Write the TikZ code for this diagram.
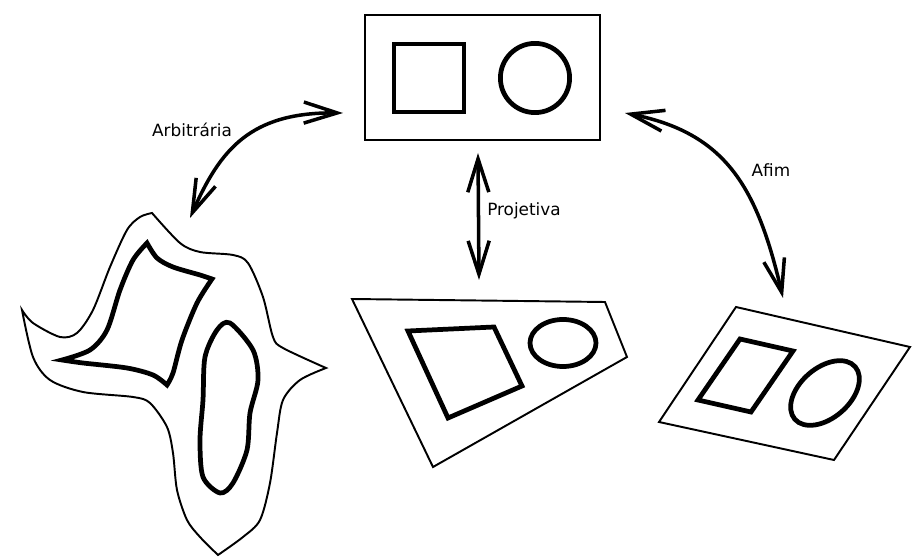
\documentclass[tikz,border=0pt]{standalone}
\usepackage{fontspec}
\setmainfont{DejaVu Sans}
\usetikzlibrary{arrows.meta}
\tikzset{
  outline/.style={line width=1.1pt, line join=miter},
  bold shape/.style={line width=2.7pt, line join=miter},
  map arrow/.style={
    line width=2pt,
    {Straight Barb[length=19pt, width=12pt]}-{Straight Barb[length=19pt, width=12pt]}
  },
  map label/.style={font=\fontsize{9.6}{11}\selectfont, inner sep=0pt}
}

\begin{document}
\begin{tikzpicture}[x=0.02cm, y=-0.02cm]
  \useasboundingbox (0,0) rectangle (914,560);

  % Original figure
  \draw[outline] (365,15) rectangle (600,140);
  \draw[bold shape] (394,44) rectangle (464,112);
  \draw[bold shape] (535,78) circle[radius=34.6];

  % Projective image
  \draw[outline] (352,299) -- (605,302) -- (627,357) -- (433,467) -- cycle;
  \draw[bold shape] (408,331) -- (494,327) -- (522,386) -- (448,418) -- cycle;
  \draw[bold shape] (563,343) ellipse[x radius=33, y radius=23.5];

  % Affine image
  \draw[outline] (736,307) -- (910,347) -- (834,460) -- (659,422) -- cycle;
  \draw[bold shape] (740,339) -- (793,351) -- (751,412) -- (698,400) -- cycle;
  \draw[bold shape, rotate around={41:(825,393)}] (825,393) ellipse[x radius=40, y radius=25];

  % Arbitrary image
  \draw[outline]
    plot[smooth] coordinates {(152,213) (180,243) (200,252) (233,255) (248,263) (263,297) (273,337) (283,348) (326,368)}
    -- plot[smooth] coordinates {(326,368) (300,380) (283,400) (277,433) (270,483) (260,520) (243,537) (218,555)}
    -- plot[smooth] coordinates {(218,555) (200,537) (187,520) (177,490) (173,453) (167,427) (150,403) (133,397) (83,392) (50,380) (33,357) (22,310)}
    -- plot[smooth] coordinates {(22,310) (33,323) (60,337) (77,333) (93,310) (110,267) (127,230) (140,217) (152,213)}
    -- cycle;
  \draw[bold shape]
    plot[smooth] coordinates {(147,243) (157,258) (173,267) (200,275) (212,279)}
    -- plot[smooth] coordinates {(212,279) (197,303) (182,340) (173,373) (167,385)}
    -- plot[smooth] coordinates {(167,385) (153,375) (127,368) (83,363) (62,360)}
    -- plot[smooth] coordinates {(62,360) (90,350) (107,330) (120,290) (133,260) (147,243)}
    -- cycle;
  \draw[bold shape] plot[smooth cycle] coordinates {(230,323) (253,350) (258,380) (250,413) (247,450) (233,483) (220,493) (203,477) (200,440) (203,400) (205,357) (217,330)};

  % Arrow ends
  \coordinate (arb end) at (190,218);
  \coordinate (arb start) at (343,113);
  \coordinate (proj start) at (478,153);
  \coordinate (proj end) at (479,280);
  \coordinate (afim start) at (625,113);
  \coordinate (afim end) at (783,298);

  % Mappings
  \draw[map arrow] (arb end) .. controls (220,150) and (250,112) .. (arb start);
  \draw[map arrow] (proj start) -- (proj end);
  \draw[map arrow] (afim start) .. controls (725,133) and (757,186) .. (afim end);

  \node[map label] (arb label) at (192,130) {Arbitrária};
  \node[map label] (proj label) at (524,211) {Projetiva};
  \node[map label] (afim label) at (771,170) {Afim};
\end{tikzpicture}
\end{document}
